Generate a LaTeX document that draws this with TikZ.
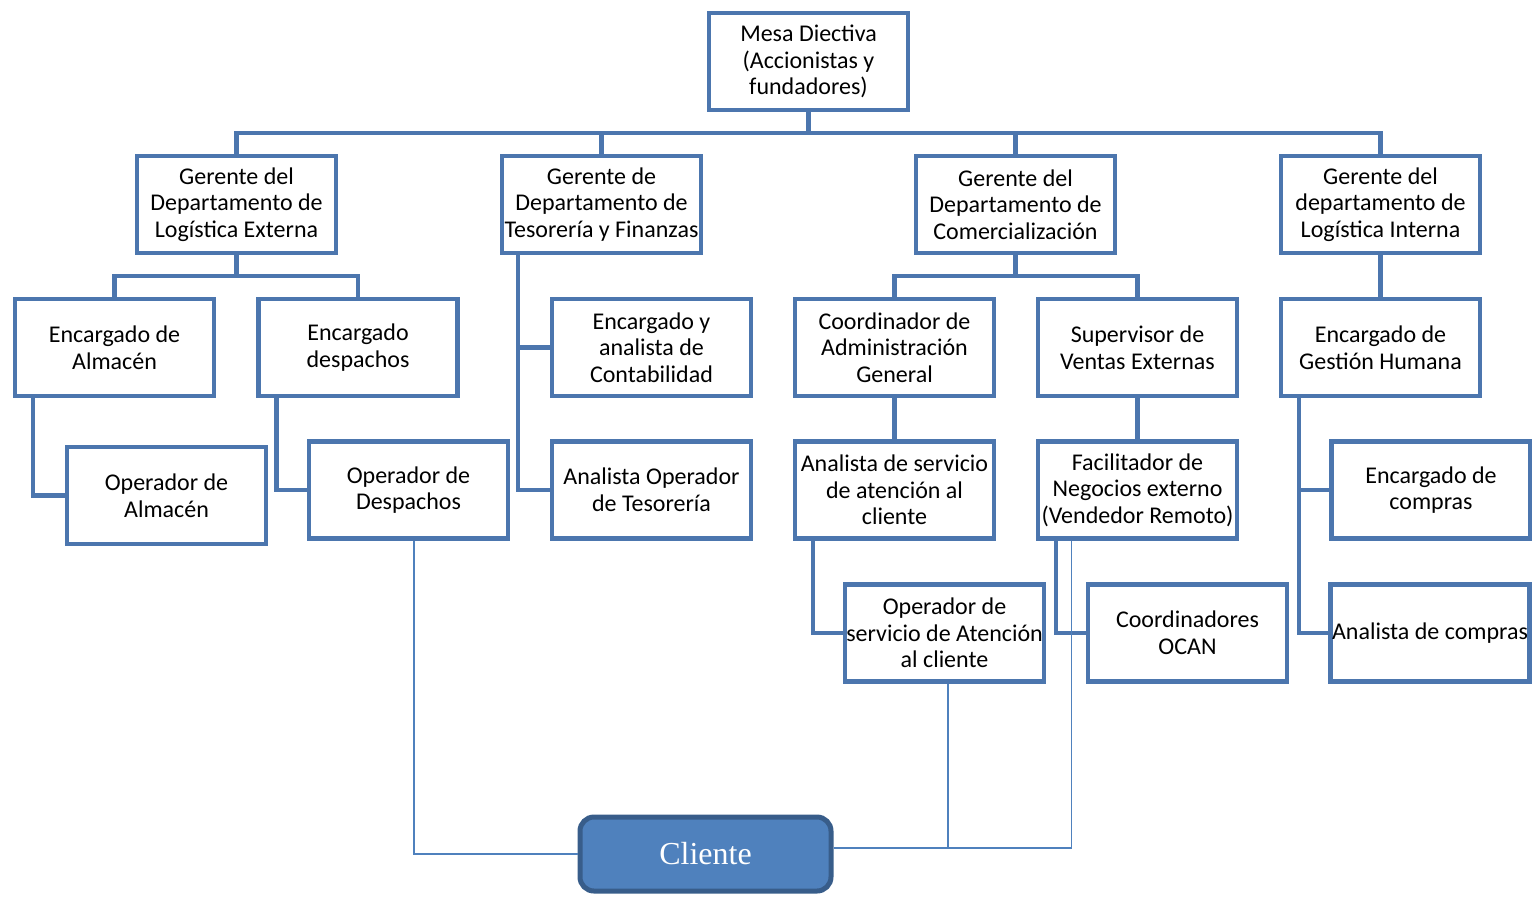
\documentclass[tikz,border=0pt]{standalone}
\usepackage{fontspec}
\setmainfont{Carlito}
\newfontfamily\clientefont{Liberation Serif}
\usetikzlibrary{positioning, calc}
\definecolor{boxblue}{RGB}{76, 118, 174}
\definecolor{clientfill}{RGB}{79, 129, 189}
\definecolor{clientdraw}{RGB}{56, 93, 138}
\tikzset{
  cargo/.style={draw=boxblue, line width=2.2pt, fill=white, minimum width=99.5pt, minimum height=48.5pt,
    inner sep=0pt, align=center, font=\fontsize{12}{13.3}\selectfont},
  link/.style={draw=boxblue, line width=2.2pt},
  wire/.style={draw=clientfill, line width=0.75pt}
}

\begin{document}
\begin{tikzpicture}[x=0.5pt, y=-0.5pt]
  \useasboundingbox (0,0) rectangle (1532,896);

  % Direccion
  \node[cargo] (mesa) at (808.5, 61.5) {Mesa Diectiva\\(Accionistas y\\fundadores)};

  % Gerencias
  \node[cargo] (g1) at (236.5, 204.5) {Gerente del\\Departamento de\\Logística Externa};
  \node[cargo] (g2) at (601.5, 204.5) {Gerente de\\Departamento de\\Tesorería y Finanzas};
  \node[cargo] (g3) at (1015.5, 204.5) {Gerente del\\Departamento de\\Comercialización};
  \node[cargo] (g4) at (1380.5, 204.5) {Gerente del\\departamento de\\Logística Interna};

  % Logistica externa
  \node[cargo] (ealm) at (114.5, 347.5) {Encargado de\\Almacén};
  \node[cargo] (edes) at (358, 347.5) {Encargado\\despachos};
  \node[cargo] (oalm) at (166.5, 495.5) {Operador de\\Almacén};
  \node[cargo] (odes) at (408.5, 490) {Operador de\\Despachos};

  % Tesoreria
  \node[cargo] (eyac) at (651.5, 347.5) {Encargado y\\analista de\\Contabilidad};
  \node[cargo] (aot) at (651.5, 490) {Analista Operador\\de Tesorería};

  % Comercializacion
  \node[cargo] (cadm) at (894.5, 347.5) {Coordinador de\\Administración\\General};
  \node[cargo] (sve) at (1137.5, 347.5) {Supervisor de\\Ventas Externas};
  \node[cargo] (asac) at (894.5, 490) {Analista de servicio\\de atención al\\cliente};
  \node[cargo] (fne) at (1137.5, 490) {Facilitador de\\Negocios externo\\(Vendedor Remoto)};
  \node[cargo] (osac) at (944.5, 633) {Operador de\\servicio de Atención\\al cliente};
  \node[cargo] (ocan) at (1187.5, 633) {Coordinadores\\OCAN};

  % Logistica interna
  \node[cargo] (egh) at (1380.5, 347.5) {Encargado de\\Gestión Humana};
  \node[cargo] (ecom) at (1431, 490) {Encargado de\\compras};
  \node[cargo] (acom) at (1430, 633) {Analista de compras};

  % Cliente
  \node[draw=clientdraw, fill=clientfill, line width=2.5pt, rounded corners=7pt, minimum width=125.5pt,
    minimum height=37pt, inner sep=0pt, text=white, font=\clientefont\fontsize{16}{18}\selectfont]
    (cliente) at (705.5, 854) {Cliente};

  % Lineas de mando
  \draw[link] (mesa.south) -- ++(0,21) -| (g1.north);
  \draw[link] (mesa.south) -- ++(0,21) -| (g2.north);
  \draw[link] (mesa.south) -- ++(0,21) -| (g3.north);
  \draw[link] (mesa.south) -- ++(0,21) -| (g4.north);

  \draw[link] (g1.south) -- ++(0,21) -| (ealm.north);
  \draw[link] (g1.south) -- ++(0,21) -| (edes.north);
  \draw[link] ([xshift=10pt]ealm.south west) |- (oalm.west);
  \draw[link] ([xshift=10pt]edes.south west) |- (odes.west);

  \draw[link] ([xshift=9pt]g2.south west) |- (eyac.west);
  \draw[link] ([xshift=9pt]g2.south west) |- (aot.west);

  \draw[link] (g3.south) -- ++(0,21) -| (cadm.north);
  \draw[link] (g3.south) -- ++(0,21) -| (sve.north);
  \draw[link] (cadm.south) -- (asac.north);
  \draw[link] (sve.south) -- (fne.north);
  \draw[link] ([xshift=10pt]asac.south west) |- (osac.west);
  \draw[link] ([xshift=10pt]fne.south west) |- (ocan.west);

  \draw[link] (g4.south) -- (egh.north);
  \draw[link] ([xshift=10pt]egh.south west) |- (ecom.west);
  \draw[link] ([xshift=10pt]egh.south west) |- (acom.west);

  % Relacion con el cliente
  \coordinate (cr) at ([yshift=3pt]cliente.east);
  \draw[wire] ([xshift=2.75pt]odes.south) |- (cliente.west);
  \draw[wire] ([xshift=1.75pt]osac.south) -- ([xshift=1.75pt]osac.south |- cr);
  \draw[wire] (cr) -| ([xshift=-33pt]fne.south);
\end{tikzpicture}
\end{document}
